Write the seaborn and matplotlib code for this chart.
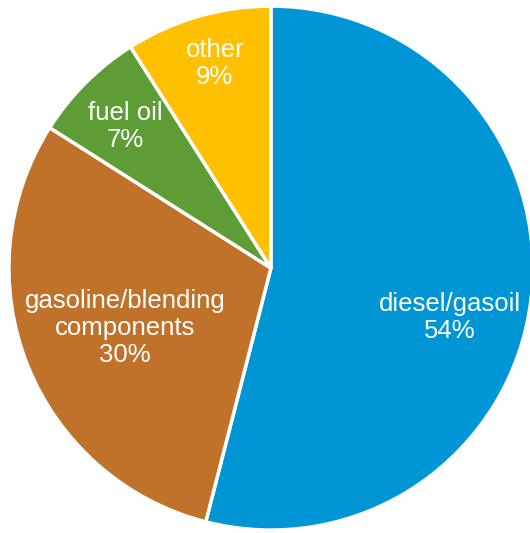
import matplotlib
matplotlib.use("Agg")
import matplotlib.pyplot as plt
import seaborn as sns

categories = ["diesel/gasoil", "gasoline/blending\ncomponents", "fuel oil", "other"]
shares = [54, 30, 7, 9]
colors = ["#0096D6", "#C0722A", "#5E9C35", "#FFC000"]

# label anchor points (in pie radius units), tuned to the reference
label_pos = [(0.683, -0.19), (-0.557, -0.23), (-0.557, 0.54), (-0.214, 0.78)]

sns.set_theme(style="white")
plt.rcParams["font.family"] = ["Liberation Sans", "DejaVu Sans"]

fig = plt.figure(figsize=(5.30, 5.33), dpi=100)
ax = fig.add_axes([0, 0, 1, 1])

wedges, _ = ax.pie(
    shares,
    colors=colors,
    startangle=90,
    counterclock=False,
    radius=1.0,
    wedgeprops=dict(edgecolor="white", linewidth=2.5),
)

for name, val, (x, y) in zip(categories, shares, label_pos):
    ax.text(x, y, f"{name}\n{val}%", ha="center", va="center",
            color="white", fontsize=18.5, linespacing=1.15)

ax.set_xlim(-1.034, 0.989)
ax.set_ylim(-1.011, 1.023)
ax.set_aspect("equal")
ax.axis("off")

fig.savefig("out.png", dpi=100, facecolor="white")
